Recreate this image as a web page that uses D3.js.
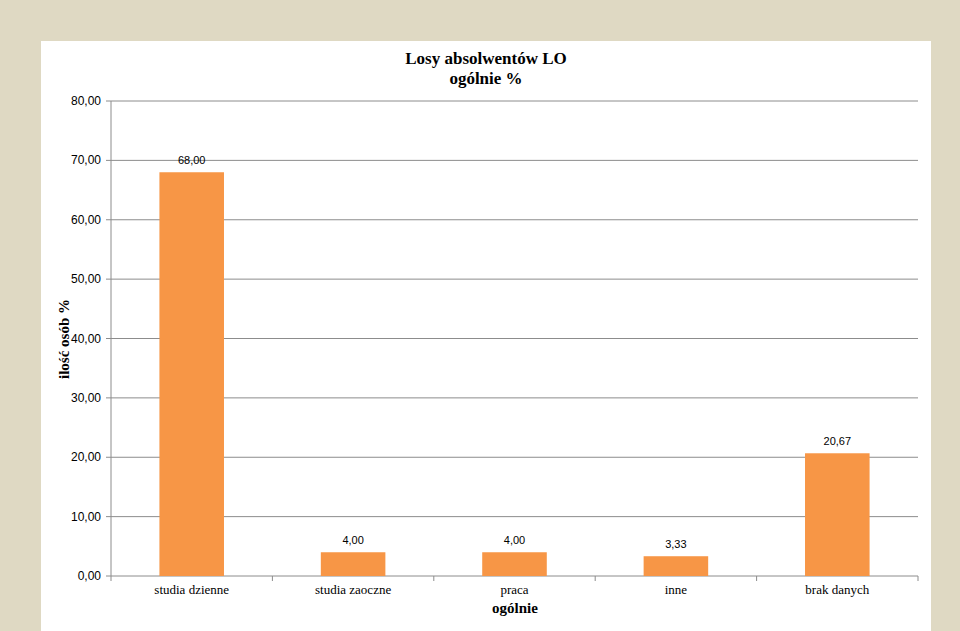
<!DOCTYPE html>
<html><head><meta charset="utf-8">
<script src="https://cdn.jsdelivr.net/npm/d3@7"></script>
<style>body{margin:0;background:#DFD9C3;}</style></head>
<body><svg id="c" width="960" height="631"></svg>
<script>
const categories=["studia dzienne","studia zaoczne","praca","inne","brak danych"];
const values=[68.00,4.00,4.00,3.33,20.67];
const ticks=[0,10,20,30,40,50,60,70,80];
const svg=d3.select("#c");
svg.append("rect").attr("x",41).attr("y",41).attr("width",890).attr("height",590).attr("fill","#fff");
const L=111,R=918,T=101,B=576;
const x=d3.scaleBand().domain(categories).range([L,R]).paddingInner(0.6).paddingOuter(0.3);
const y=d3.scaleLinear().domain([0,80]).range([B,T]);
const fmt=v=>v.toFixed(2).replace(".",",");
svg.append("g").selectAll("line").data(ticks).join("line")
 .attr("x1",L).attr("x2",R).attr("y1",d=>y(d)).attr("y2",d=>y(d)).attr("stroke","#8c8c8c").attr("stroke-width",1);
svg.append("line").attr("x1",L).attr("x2",L).attr("y1",T).attr("y2",B).attr("stroke","#8c8c8c");
svg.append("g").selectAll("line").data(ticks).join("line")
 .attr("x1",L-5).attr("x2",L).attr("y1",d=>y(d)).attr("y2",d=>y(d)).attr("stroke","#8c8c8c");
svg.append("g").selectAll("text").data(ticks).join("text")
 .attr("x",L-10).attr("y",d=>y(d)+4).attr("text-anchor","end").attr("font-family","Liberation Sans, Arial").attr("font-size",12).text(fmt);
const step=(R-L)/categories.length;
svg.append("g").selectAll("line").data(d3.range(categories.length+1)).join("line")
 .attr("x1",i=>L+i*step).attr("x2",i=>L+i*step).attr("y1",B).attr("y2",B+5).attr("stroke","#8c8c8c");
svg.append("g").selectAll("rect").data(values).join("rect")
 .attr("x",(d,i)=>x(categories[i])).attr("width",x.bandwidth()).attr("y",d=>y(d)).attr("height",d=>B-y(d)).attr("fill","#F79646");
svg.append("g").selectAll("text").data(values).join("text")
 .attr("x",(d,i)=>x(categories[i])+x.bandwidth()/2).attr("y",d=>y(d)-8).attr("text-anchor","middle")
 .attr("font-family","Liberation Sans, Arial").attr("font-size",11).text(fmt);
svg.append("g").selectAll("text").data(categories).join("text")
 .attr("x",d=>x(d)+x.bandwidth()/2).attr("y",594).attr("text-anchor","middle")
 .attr("font-family","Liberation Serif, Times New Roman").attr("font-size",13).text(d=>d);
const ser="Liberation Serif, Times New Roman";
svg.append("text").attr("x",486).attr("y",64).attr("text-anchor","middle").attr("font-family",ser).attr("font-weight","bold").attr("font-size",17).text("Losy absolwentów LO");
svg.append("text").attr("x",486).attr("y",84).attr("text-anchor","middle").attr("font-family",ser).attr("font-weight","bold").attr("font-size",17).text("ogólnie %");
svg.append("text").attr("x",515).attr("y",613).attr("text-anchor","middle").attr("font-family",ser).attr("font-weight","bold").attr("font-size",15).text("ogólnie");
svg.append("text").attr("transform","translate(69,339) rotate(-90)").attr("text-anchor","middle").attr("font-family",ser).attr("font-weight","bold").attr("font-size",15).text("ilość osób %");
</script></body></html>
